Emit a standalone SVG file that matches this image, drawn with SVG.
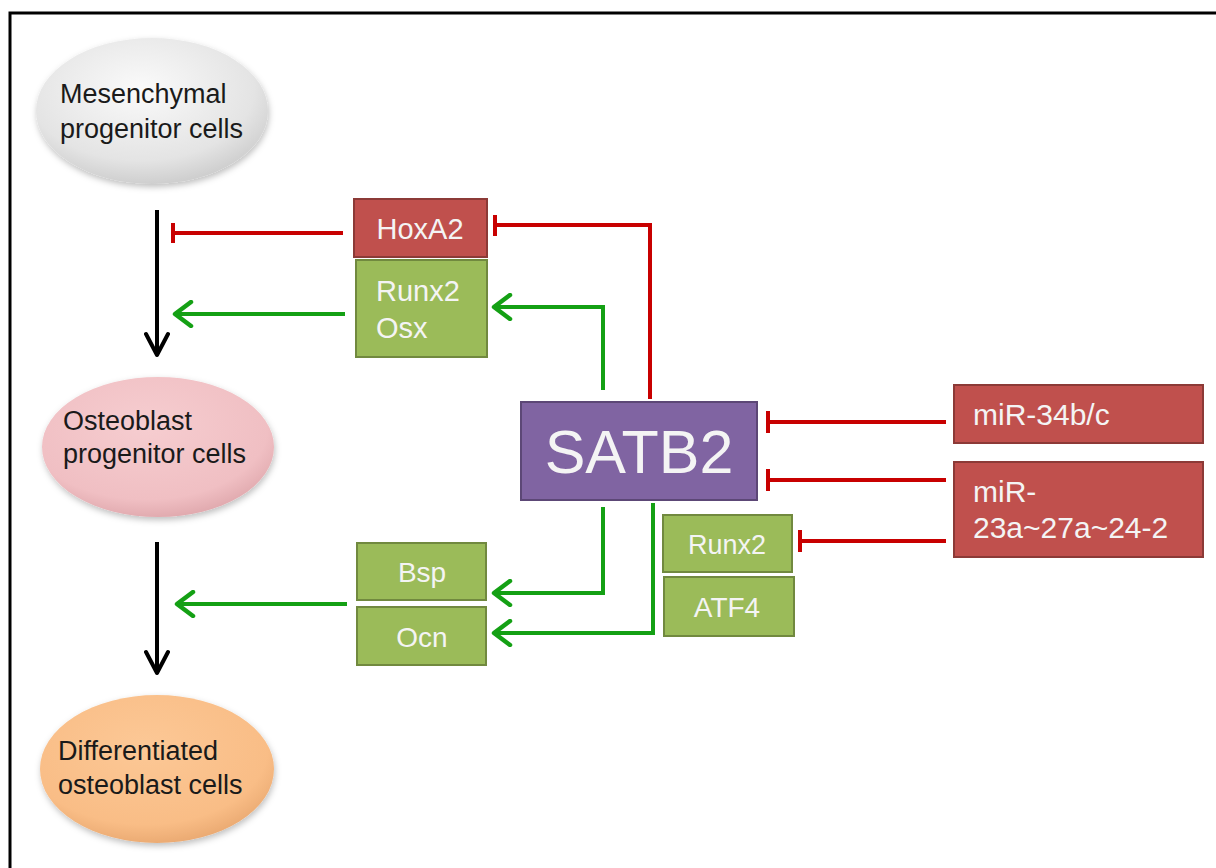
<svg xmlns="http://www.w3.org/2000/svg" width="1216" height="868" viewBox="0 0 1216 868">
<defs>
<radialGradient id="gGray" cx="0.45" cy="0.35" r="0.7"><stop offset="0" stop-color="#fafafa"/><stop offset="0.7" stop-color="#e4e4e4"/><stop offset="1" stop-color="#c8c8c8"/></radialGradient>
<radialGradient id="gPink" cx="0.45" cy="0.35" r="0.7"><stop offset="0" stop-color="#f6cdd0"/><stop offset="0.75" stop-color="#f0bfc3"/><stop offset="1" stop-color="#dca3a8"/></radialGradient>
<radialGradient id="gOrange" cx="0.45" cy="0.35" r="0.7"><stop offset="0" stop-color="#fcc896"/><stop offset="0.75" stop-color="#f9bd86"/><stop offset="1" stop-color="#e6a46c"/></radialGradient>
<filter id="sh" x="-10%" y="-10%" width="125%" height="130%"><feDropShadow dx="1" dy="3" stdDeviation="3" flood-color="#000" flood-opacity="0.25"/></filter>
<marker id="arrG" viewBox="0 0 24 28" refX="21" refY="14" markerWidth="24" markerHeight="28" markerUnits="userSpaceOnUse" orient="auto"><path d="M5,2 L21,14 L5,26" fill="none" stroke="#14a014" stroke-width="4.5" stroke-linecap="round" stroke-linejoin="round"/></marker>
<marker id="arrK" viewBox="0 0 28 26" refX="24" refY="13" markerWidth="28" markerHeight="26" markerUnits="userSpaceOnUse" orient="auto"><path d="M3,2 L24,13 L3,24" fill="none" stroke="#000" stroke-width="4" stroke-linecap="round" stroke-linejoin="round"/></marker>
</defs>
<style>
.cell{font-family:"Liberation Sans",Arial,sans-serif;font-size:27px;fill:#1a1a1a}
.lbl{font-family:"Liberation Sans",Arial,sans-serif;fill:#f4f4f4}
.red{fill:#c0504d;stroke:#8c3a37;stroke-width:2}
.grn{fill:#9bbb59;stroke:#71893f;stroke-width:2}
.pur{fill:#8064a2;stroke:#5c4776;stroke-width:2}
.lr{fill:none;stroke:#c80000;stroke-width:4}
.lg{fill:none;stroke:#14a014;stroke-width:4}
.lk{fill:none;stroke:#000;stroke-width:4}
</style>
<rect x="0" y="0" width="1216" height="868" fill="#fff"/>
<path d="M10,868 L10,13 L1216,13" fill="none" stroke="#000" stroke-width="3"/>

<g id="mesenchymal">
<ellipse cx="152" cy="111" rx="116" ry="73" fill="url(#gGray)" filter="url(#sh)"/>
<text class="cell" x="60" y="103">Mesenchymal</text>
<text class="cell" x="60" y="138">progenitor cells</text>
</g>
<g id="osteoprog">
<ellipse cx="158" cy="447" rx="116" ry="70" fill="url(#gPink)" filter="url(#sh)"/>
<text class="cell" x="63" y="430">Osteoblast</text>
<text class="cell" x="63" y="463">progenitor cells</text>
</g>
<g id="differentiated">
<ellipse cx="157" cy="769" rx="117" ry="74" fill="url(#gOrange)" filter="url(#sh)"/>
<text class="cell" x="58" y="760">Differentiated</text>
<text class="cell" x="58" y="794">osteoblast cells</text>
</g>

<g id="hoxa2">
<rect class="red" x="354" y="199" width="133" height="58"/>
<text class="lbl" x="420" y="239" font-size="29" text-anchor="middle">HoxA2</text>
</g>
<g id="runx2osx">
<rect class="grn" x="356" y="260" width="131" height="97"/>
<text class="lbl" x="376" y="301" font-size="29">Runx2</text>
<text class="lbl" x="376" y="338" font-size="29">Osx</text>
</g>
<g id="satb2">
<rect class="pur" x="521" y="402" width="236" height="98"/>
<text class="lbl" x="639" y="473" font-size="61" text-anchor="middle">SATB2</text>
</g>
<g id="mir34">
<rect class="red" x="954" y="385" width="249" height="58"/>
<text class="lbl" x="973" y="425" font-size="30">miR-34b/c</text>
</g>
<g id="mir23">
<rect class="red" x="954" y="462" width="249" height="95"/>
<text class="lbl" x="973" y="502" font-size="30">miR-</text>
<text class="lbl" x="973" y="538" font-size="30">23a~27a~24-2</text>
</g>
<g id="runx2b">
<rect class="grn" x="663" y="515" width="129" height="57"/>
<text class="lbl" x="727" y="554" font-size="27" text-anchor="middle">Runx2</text>
</g>
<g id="atf4">
<rect class="grn" x="664" y="577" width="130" height="59"/>
<text class="lbl" x="727" y="617" font-size="28" text-anchor="middle">ATF4</text>
</g>
<g id="bsp">
<rect class="grn" x="357" y="543" width="129" height="57"/>
<text class="lbl" x="422" y="582" font-size="28" text-anchor="middle">Bsp</text>
</g>
<g id="ocn">
<rect class="grn" x="357" y="607" width="129" height="58"/>
<text class="lbl" x="422" y="647" font-size="28" text-anchor="middle">Ocn</text>
</g>

<g id="connectors">
<line class="lk" x1="157" y1="210" x2="157" y2="355" marker-end="url(#arrK)"/>
<line class="lk" x1="157" y1="542" x2="157" y2="673" marker-end="url(#arrK)"/>
<line class="lr" x1="343" y1="233" x2="173" y2="233"/>
<line class="lr" x1="173" y1="223" x2="173" y2="243"/>
<line class="lg" x1="345" y1="314" x2="175" y2="314" marker-end="url(#arrG)"/>
<line class="lg" x1="347" y1="604" x2="177" y2="604" marker-end="url(#arrG)"/>
<polyline class="lr" points="650,399 650,225 495,225"/>
<line class="lr" x1="495" y1="215" x2="495" y2="236"/>
<polyline class="lg" points="603,390 603,307 494,307" marker-end="url(#arrG)"/>
<polyline class="lg" points="603,507 603,593 494,593" marker-end="url(#arrG)"/>
<polyline class="lg" points="653,503 653,633 494,633" marker-end="url(#arrG)"/>
<line class="lr" x1="946" y1="422" x2="768" y2="422"/>
<line class="lr" x1="768" y1="411" x2="768" y2="433"/>
<line class="lr" x1="946" y1="480" x2="768" y2="480"/>
<line class="lr" x1="768" y1="469" x2="768" y2="491"/>
<line class="lr" x1="946" y1="541" x2="800" y2="541"/>
<line class="lr" x1="800" y1="530" x2="800" y2="552"/>
</g>
</svg>
